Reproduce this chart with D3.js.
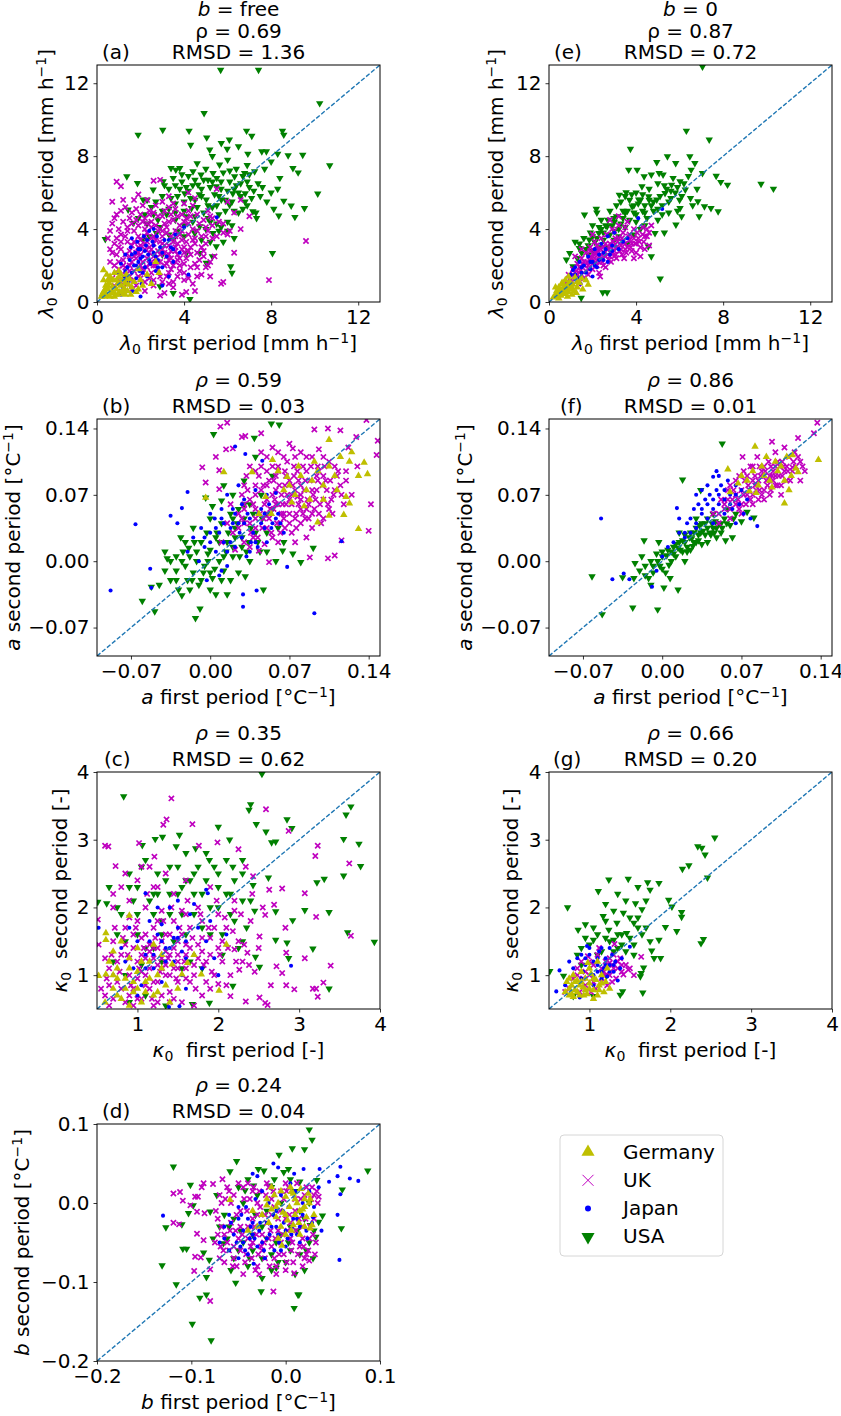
<!DOCTYPE html>
<html>
<head>
<meta charset="utf-8">
<script src="https://cdn.jsdelivr.net/npm/d3@7"></script>
<style>
  body { margin: 0; background: #fff; }
  text { font-family: "DejaVu Sans", sans-serif; fill: #000; white-space: pre; }
</style>
</head>
<body>
<svg id="fig" width="841" height="1416"></svg>
<script>
// ---- data ----
const countries = ["Germany", "UK", "Japan", "USA"];
const panelIds = ["a", "b", "c", "d", "e", "f", "g"];
const rhoValues = ["0.69", "0.59", "0.35", "0.24", "0.87", "0.86", "0.66"];
const rmsdValues = ["1.36", "0.03", "0.62", "0.04", "0.72", "0.01", "0.20"];

const lamTicks = [0, 4, 8, 12];
const aTicks = [-0.07, 0, 0.07, 0.14];
const kapTicks = [1, 2, 3, 4];
const bTicks = [-0.2, -0.1, 0.0, 0.1];

// (a) lambda0, b free
const lamFreeGermany = [[0.25,0.45],[0.35,0.6],[0.4,0.9],[0.3,1.2],[0.3,1.75],[0.45,0.35],[0.5,0.7],[0.55,1.05],[0.6,1.4],[0.65,0.5],[0.7,0.85],[0.75,1.2],[0.8,1.6],[0.85,0.4],[0.9,0.7],[0.95,1.0],[1.0,1.35],[1.05,0.55],[1.1,0.9],[1.15,1.2],[1.2,0.45],[1.25,0.75],[1.3,1.05],[1.35,1.5],[1.4,0.6],[1.45,0.95],[1.5,1.25],[1.55,0.4],[1.6,0.8],[1.7,1.1],[1.8,0.55],[1.9,1.8],[2.0,1.2],[2.1,0.9],[2.3,1.5],[2.7,2.2],[2.85,1.6],[0.2,0.3],[0.45,1.5],[0.6,0.3],[1.0,1.7],[1.9,0.7],[2.5,1.0],[0.35,0.3],[0.8,0.3],[0.3,0.55],[0.5,0.9],[0.6,1.2],[0.7,0.6],[0.9,1.2],[1.1,1.5],[1.2,0.6],[1.4,1.3],[0.4,0.75],[0.5,1.2],[0.95,0.4],[1.3,0.4]];
const lamFreeUK = [[1.2,0.5],[1.6,0.7],[2.2,0.6],[2.6,0.9],[3.1,0.5],[3.5,0.8],[3.9,0.4],[4.1,0.55],[4.5,0.6],[0.8,0.9],[2.9,0.35],[0.7,1.3],[1.0,1.8],[1.3,1.5],[1.7,1.2],[2.1,1.6],[2.4,1.3],[2.8,1.8],[3.2,1.4],[3.5,1.1],[3.8,1.7],[4.2,1.3],[4.6,1.9],[5.0,1.9],[5.2,1.4],[5.7,1.0],[5.8,1.1],[7.9,1.2],[1.9,1.9],[3.0,1.1],[4.4,1.0],[0.6,2.2],[0.9,2.6],[1.2,2.3],[1.5,2.8],[1.8,2.4],[2.2,2.9],[2.5,2.2],[2.9,2.6],[3.3,2.3],[3.6,2.8],[4.0,2.1],[4.3,2.6],[4.7,2.3],[5.2,2.2],[5.4,2.5],[6.3,2.7],[1.1,2.9],[3.8,2.4],[2.7,2.0],[4.9,2.8],[0.5,3.5],[0.8,3.2],[1.1,3.7],[1.4,3.3],[1.7,3.9],[2.0,3.4],[2.3,3.8],[2.6,3.2],[3.0,3.6],[3.3,3.1],[3.6,3.9],[3.9,3.4],[4.2,3.7],[4.5,3.2],[4.8,3.6],[5.1,3.9],[5.8,3.8],[6.0,3.7],[6.1,3.9],[9.6,3.35],[1.9,3.0],[2.8,3.9],[3.5,3.5],[4.0,3.0],[0.7,4.3],[0.9,4.8],[1.2,4.4],[1.6,4.9],[1.9,4.2],[2.2,4.6],[2.5,4.1],[2.8,4.7],[3.1,4.3],[3.4,4.8],[3.8,4.2],[4.1,4.6],[4.4,4.0],[4.9,4.5],[5.3,4.2],[6.6,4.0],[7.0,4.7],[1.4,4.1],[0.7,5.5],[1.1,6.35],[0.9,6.6],[1.7,5.6],[2.6,6.65],[2.9,6.7],[3.0,5.5],[4.5,5.7],[5.5,6.2],[6.0,5.5],[6.6,5.6],[1.3,5.2],[2.1,5.3],[3.6,5.1],[4.0,5.4],[5.1,5.0],[2.4,5.0],[1.5,2.0],[1.8,2.7],[2.1,2.2],[2.4,2.7],[2.7,2.4],[3.0,2.9],[3.3,2.6],[3.6,2.2],[2.0,3.1],[2.3,3.3],[2.6,3.6],[2.9,3.3],[3.2,3.8],[3.5,3.3],[1.7,1.7],[2.3,1.9],[3.1,2.0],[3.4,1.8],[1.3,1.9],[1.0,2.2],[1.1,1.1],[1.4,1.0],[1.8,0.9],[2.0,1.3],[2.5,1.6],[2.9,1.4],[3.3,1.0],[3.7,1.4],[4.0,1.6],[4.3,1.9],[4.8,1.5],[0.9,1.6],[1.2,2.0],[1.6,2.2],[2.0,2.0],[2.3,2.4],[2.6,2.0],[2.9,2.2],[3.2,2.5],[3.5,2.0],[3.8,2.0],[4.1,2.4],[4.5,2.1],[4.9,2.5],[5.1,2.0],[0.7,2.7],[1.0,3.0],[1.3,2.6],[1.6,3.1],[1.9,2.7],[2.2,3.2],[2.5,2.9],[2.8,2.8],[3.1,3.1],[3.4,2.8],[3.7,3.2],[4.0,2.7],[4.3,3.0],[4.6,2.7],[5.0,3.2],[5.3,3.5],[0.6,3.9],[1.0,4.0],[1.3,3.6],[1.6,4.3],[1.9,3.6],[2.2,4.0],[2.5,3.5],[2.7,4.2],[3.0,3.9],[3.3,4.4],[3.6,3.6],[3.9,3.9],[4.2,4.3],[4.6,3.9],[5.0,4.1],[5.5,3.6],[0.8,4.6],[1.1,5.0],[1.5,4.6],[1.8,5.1],[2.1,4.4],[2.4,4.8],[2.7,5.3],[3.0,4.7],[3.3,5.2],[3.7,4.7],[4.2,5.0],[4.6,4.8],[5.3,4.6],[5.8,4.3],[1.2,5.6],[1.9,5.9],[2.3,5.6],[3.3,5.8],[4.2,6.0],[6.3,4.9],[2.2,1.1],[1.5,1.4],[3.7,2.6],[4.4,3.4],[2.4,2.1],[1.2,1.2],[1.5,1.7],[1.7,2.5],[2.0,2.6],[2.1,1.8],[2.2,3.6],[2.4,3.0],[2.5,4.4],[2.6,2.5],[2.7,3.4],[2.8,2.2],[2.9,4.0],[3.0,3.2],[3.1,2.7],[3.2,4.1],[3.2,2.1],[3.4,3.6],[3.4,2.4],[3.5,4.5],[3.6,3.0],[3.7,2.3],[3.8,3.7],[3.9,2.9],[4.0,4.4],[4.1,3.3],[4.2,2.8],[4.3,4.7],[4.5,3.5],[4.7,4.3],[4.8,3.0],[5.0,3.6],[5.2,4.7],[5.6,4.4],[1.1,3.3],[1.4,3.9],[1.5,2.5],[1.7,3.3],[1.8,4.5],[2.0,4.8],[2.3,4.3],[2.6,4.9],[3.1,5.0],[3.5,5.4],[3.9,4.8],[4.4,5.3],[0.9,3.5],[0.6,2.9],[0.8,2.0],[1.3,1.3],[1.9,1.4],[2.6,1.2],[3.3,1.6],[4.0,1.2],[4.6,1.4]];
const lamFreeJapan = [[0.9,1.2],[1.0,1.6],[1.1,2.1],[1.2,0.8],[1.25,1.4],[1.3,2.6],[1.4,1.9],[1.45,1.1],[1.5,2.3],[1.55,3.0],[1.6,1.6],[1.65,0.6],[1.7,2.0],[1.75,2.7],[1.8,1.3],[1.85,3.3],[1.9,2.2],[1.95,1.7],[2.0,2.9],[2.05,1.0],[2.1,2.5],[2.15,3.6],[2.2,1.9],[2.25,3.1],[2.3,1.4],[2.35,2.6],[2.4,3.9],[2.45,2.1],[2.5,1.1],[2.55,3.3],[2.6,2.7],[2.7,1.7],[2.75,3.6],[2.8,2.3],[2.9,3.0],[3.0,1.9],[3.1,3.4],[3.2,2.5],[3.3,1.4],[3.4,3.0],[3.5,2.2],[3.6,3.7],[3.8,2.7],[4.0,4.1],[4.2,1.5],[1.1,0.4],[5.5,4.65],[2.0,0.3],[1.6,3.5],[2.6,4.0],[3.0,0.9],[1.3,1.7],[1.6,2.6],[1.9,2.9],[2.1,1.6],[2.2,2.8],[2.4,2.3],[2.6,3.1],[2.8,1.9],[3.0,2.7],[3.3,3.4],[1.8,2.0],[2.0,2.4],[2.3,3.4],[2.7,2.5],[3.5,2.9]];
const lamFreeUSA = [[5.68,12.73],[7.42,12.73],[10.23,10.9],[4.92,10.36],[3.02,9.44],[4.23,9.39],[1.89,9.17],[5.04,9.02],[6.87,9.39],[7.11,9.11],[8.52,9.39],[8.58,9.17],[4.3,8.62],[5.71,8.71],[6.08,8.9],[5.98,8.4],[5.18,8.35],[6.5,8.53],[6.93,8.13],[7.57,8.26],[7.78,8.26],[8.3,8.13],[8.78,8.04],[9.45,8.07],[10.69,7.49],[9.0,7.34],[9.24,7.1],[10.14,5.94],[9.53,5.15],[8.92,5.28],[9.09,4.66],[8.58,5.55],[8.35,4.73],[8.12,5.1],[8.06,2.68],[7.16,4.97],[7.33,4.6],[6.14,1.95],[6.2,1.59],[4.27,0.16],[1.37,6.89],[1.86,6.52],[0.38,3.45],[3.4,7.34],[3.62,7.25],[3.8,7.34],[4.41,7.16],[4.78,6.98],[5.33,7.07],[5.63,7.53],[6.32,6.89],[6.78,7.07],[7.24,7.16],[6.81,5.96],[6.24,5.96],[4.64,6.43],[4.03,5.96],[3.04,6.61],[2.58,6.16],[2.12,5.61],[1.43,5.06],[5.48,6.34],[5.71,5.61],[6.09,5.33],[5.02,5.61],[4.34,5.15],[4.11,4.69],[4.72,4.15],[5.33,3.78],[5.48,3.05],[4.72,2.68],[5.02,2.14],[4.11,2.68],[3.5,3.42],[2.73,3.78],[2.12,3.42],[1.66,4.33],[3.5,0.49],[2.89,0.86],[4.49,3.78],[2.5,5.2],[3.0,5.8],[3.3,6.2],[3.6,5.4],[3.9,6.6],[4.2,6.1],[4.5,5.6],[4.8,6.2],[5.1,6.7],[5.4,5.9],[5.7,6.6],[6.0,6.1],[6.4,6.4],[6.6,5.8],[7.0,6.3],[3.2,4.8],[3.6,4.5],[4.0,5.0],[4.4,4.4],[4.9,4.9],[5.2,4.4],[5.6,4.8],[6.0,4.4],[6.3,5.0],[6.7,6.9],[2.2,4.8],[2.8,4.5],[7.5,5.8],[5.3,2.5],[5.8,3.3],[6.5,4.9],[3.0,2.6],[6.9,5.3],[7.3,4.9],[2.3,5.6],[2.7,5.5],[3.1,6.4],[3.3,5.1],[3.5,6.8],[3.7,5.8],[3.9,7.0],[4.1,6.3],[4.3,5.7],[4.5,6.7],[4.6,5.2],[4.8,5.8],[5.0,7.3],[5.2,6.3],[5.3,5.2],[5.5,6.8],[5.6,5.8],[5.8,7.1],[5.9,5.0],[6.1,6.6],[6.2,5.5],[6.4,7.3],[6.5,6.0],[6.7,5.1],[6.9,6.6],[7.1,5.7],[7.4,6.5],[7.7,7.3],[8.0,6.0],[8.4,6.8],[4.0,4.2],[4.5,4.7],[5.0,4.0],[5.5,4.3],[6.0,3.9],[6.3,3.5],[5.7,4.1],[3.7,3.9],[3.3,3.7],[4.8,3.4],[5.2,3.3],[2.9,4.1],[2.4,3.6],[3.8,6.2],[4.6,7.6],[5.3,8.0],[6.0,7.8],[6.9,7.5],[7.6,6.3],[8.0,7.7],[2.6,4.8],[3.0,5.0],[3.4,5.7],[3.6,6.4],[4.0,5.5],[4.2,6.9],[4.4,6.4],[4.7,5.9],[4.9,6.7],[5.1,5.3],[5.3,6.6],[5.5,5.3],[5.7,6.2],[5.9,5.6],[6.1,7.2],[6.3,6.2],[6.6,6.5],[6.8,5.5],[7.0,7.0],[7.2,6.1],[4.0,3.6],[4.5,3.9],[5.1,4.6],[5.6,3.9],[6.2,4.2],[3.6,4.9],[2.3,4.3],[1.9,4.6],[7.8,5.5],[8.3,6.2]];

// (b) a, b free
const aFreeGermany = [[-0.004,0.067],[0.055,0.107],[0.105,0.128],[0.123,0.105],[0.136,0.104],[0.131,0.09],[0.139,0.092],[0.12,0.068],[0.123,0.061],[0.118,0.049],[0.131,0.034],[0.105,0.048],[0.095,0.041],[0.012,0.094],[0.037,0.094],[0.068,0.089],[0.049,0.068],[0.054,0.05],[0.043,0.05],[0.07,0.08],[0.075,0.07],[0.08,0.09],[0.085,0.075],[0.09,0.085],[0.095,0.095],[0.1,0.08],[0.105,0.1],[0.11,0.09],[0.115,0.11],[0.078,0.1],[0.065,0.075],[0.088,0.065],[0.1,0.065],[0.06,0.095],[0.092,0.105],[0.112,0.075],[0.125,0.115],[0.083,0.058],[0.072,0.062]];
const aFreeUK = [[0.009,0.142],[0.015,0.146],[-0.007,0.099],[-0.004,0.083],[0.008,0.076],[0.031,0.132],[0.045,0.135],[0.092,0.139],[0.104,0.14],[0.115,0.138],[0.129,0.131],[0.138,0.149],[0.148,0.127],[0.147,0.112],[0.142,0.06],[0.14,0.032],[0.116,0.022],[0.11,0.006],[0.104,0.003],[0.088,0.004],[0.052,-0.001],[0.043,0.011],[0.008,0.096],[0.005,0.11],[0.014,0.118],[0.02,0.119],[0.028,0.131],[0.07,0.124],[0.073,0.119],[0.096,0.118],[0.122,0.12],[0.02,0.03],[0.025,0.05],[0.028,0.07],[0.03,0.02],[0.032,0.09],[0.035,0.04],[0.038,0.06],[0.04,0.08],[0.042,0.025],[0.045,0.1],[0.047,0.045],[0.05,0.065],[0.052,0.085],[0.054,0.03],[0.056,0.055],[0.058,0.075],[0.06,0.095],[0.062,0.04],[0.064,0.06],[0.066,0.08],[0.068,0.105],[0.07,0.05],[0.072,0.07],[0.074,0.09],[0.076,0.035],[0.078,0.06],[0.08,0.08],[0.082,0.1],[0.084,0.045],[0.086,0.065],[0.088,0.085],[0.09,0.11],[0.092,0.055],[0.094,0.075],[0.096,0.095],[0.098,0.04],[0.1,0.065],[0.102,0.085],[0.105,0.105],[0.108,0.05],[0.11,0.075],[0.113,0.095],[0.118,0.06],[0.12,0.085],[0.125,0.07],[0.13,0.1],[0.022,0.012],[0.035,0.015],[0.048,0.018],[0.06,0.02],[0.075,0.02],[0.085,0.025],[0.03,0.055],[0.04,0.045],[0.055,0.07],[0.065,0.045],[0.075,0.075],[0.085,0.055],[0.095,0.085],[0.06,0.06],[0.07,0.085],[0.08,0.065],[0.05,0.05],[0.045,0.075],[0.058,0.09],[0.015,0.04],[0.01,0.02],[0.018,0.06],[0.025,0.035],[0.03,0.06],[0.033,0.075],[0.036,0.03],[0.04,0.055],[0.043,0.09],[0.046,0.035],[0.048,0.06],[0.05,0.08],[0.052,0.045],[0.055,0.1],[0.057,0.065],[0.059,0.04],[0.061,0.08],[0.063,0.05],[0.066,0.095],[0.068,0.07],[0.07,0.04],[0.072,0.06],[0.074,0.1],[0.076,0.05],[0.078,0.085],[0.08,0.055],[0.083,0.075],[0.085,0.095],[0.087,0.045],[0.09,0.075],[0.093,0.065],[0.095,0.1],[0.097,0.06],[0.1,0.09],[0.103,0.075],[0.107,0.065],[0.11,0.1],[0.115,0.08],[0.12,0.095],[0.035,0.1],[0.045,0.115],[0.055,0.12],[0.065,0.11],[0.08,0.115],[0.062,0.03],[0.072,0.03],[0.09,0.035],[0.1,0.045],[0.04,0.035],[0.028,0.045],[0.05,0.035],[0.067,0.06],[0.077,0.068],[0.03,0.04],[0.035,0.065],[0.04,0.07],[0.044,0.05],[0.047,0.08],[0.05,0.095],[0.053,0.055],[0.056,0.085],[0.058,0.06],[0.06,0.1],[0.063,0.07],[0.065,0.05],[0.067,0.09],[0.07,0.065],[0.073,0.08],[0.075,0.045],[0.077,0.095],[0.08,0.07],[0.082,0.05],[0.084,0.085],[0.087,0.06],[0.089,0.1],[0.091,0.07],[0.094,0.09],[0.096,0.05],[0.099,0.08],[0.101,0.1],[0.104,0.06],[0.106,0.085],[0.109,0.07],[0.112,0.09],[0.116,0.07],[0.04,0.095],[0.05,0.11],[0.06,0.115],[0.075,0.11],[0.085,0.11],[0.1,0.11],[0.038,0.025],[0.055,0.025],[0.066,0.035],[0.08,0.04],[0.09,0.05],[0.105,0.055],[0.03,0.08]];
const aFreeJapan = [[-0.088,-0.031],[-0.066,0.039],[-0.053,-0.008],[-0.052,-0.028],[-0.035,0.048],[-0.029,0.04],[-0.025,0.056],[-0.02,0.073],[0.022,0.121],[0.031,0.113],[0.029,-0.035],[0.029,-0.048],[0.041,-0.031],[0.092,-0.055],[0.068,-0.006],[0.116,0.021],[0.046,0.106],[-0.01,0.0],[-0.005,0.015],[0.0,0.03],[0.005,0.01],[0.01,0.045],[0.012,0.02],[0.015,-0.005],[0.018,0.035],[0.02,0.055],[0.022,0.015],[0.025,0.04],[0.028,0.025],[0.03,0.065],[0.032,0.005],[0.035,0.045],[0.038,0.03],[0.04,0.075],[0.042,0.015],[0.045,0.055],[0.048,0.035],[0.05,0.02],[0.052,0.06],[0.055,0.04],[0.06,0.05],[0.065,0.03],[-0.015,0.025],[-0.02,0.01],[0.008,-0.015],[0.0,0.05],[0.015,0.07],[-0.008,0.035],[0.025,0.08],[0.035,0.01],[0.058,0.072],[-0.003,-0.02],[0.01,-0.01],[0.0,0.02],[0.008,0.03],[0.015,0.01],[0.02,0.04],[0.026,0.03],[0.033,0.05],[0.04,0.02],[0.045,0.04],[0.05,0.07],[0.058,0.045],[0.004,0.045],[0.028,0.06],[0.005,0.035],[0.012,0.04],[0.018,0.02],[0.022,0.05],[0.03,0.04],[0.036,0.02],[0.042,0.05],[0.048,0.05],[0.054,0.035],[0.062,0.04],[-0.005,0.025],[0.01,0.055]];
const aFreeUSA = [[0.054,0.145],[0.061,0.144],[0.003,0.134],[0.039,0.13],[-0.004,0.067],[-0.06,-0.042],[-0.049,-0.053],[-0.052,-0.027],[-0.013,-0.06],[-0.009,-0.05],[-0.025,-0.036],[-0.038,0.003],[-0.026,0.025],[-0.019,0.014],[0.005,-0.035],[0.015,-0.035],[0.031,-0.016],[0.047,-0.03],[0.08,-0.001],[0.091,0.014],[0.073,0.008],[0.064,0.011],[0.002,0.058],[0.01,0.064],[-0.03,-0.01],[-0.025,0.0],[-0.02,-0.02],[-0.018,0.005],[-0.015,-0.012],[-0.012,0.01],[-0.01,-0.025],[-0.008,0.02],[-0.005,-0.005],[-0.003,0.03],[0.0,0.012],[0.002,-0.018],[0.005,0.025],[0.008,0.0],[0.01,0.04],[0.012,-0.01],[0.015,0.02],[0.018,0.05],[0.02,0.005],[0.022,0.035],[0.025,-0.012],[0.028,0.015],[0.03,0.045],[0.035,0.0],[0.04,0.03],[0.045,0.07],[0.05,0.01],[0.055,0.09],[0.06,0.035],[0.065,0.02],[-0.035,-0.02],[-0.04,0.01],[-0.028,-0.03],[-0.022,0.02],[0.0,-0.03],[0.02,0.07],[0.04,0.11],[0.03,0.085],[0.012,0.08],[0.035,0.06],[0.05,0.05],[-0.015,0.035],[0.058,0.0],[-0.022,-0.005],[-0.016,-0.02],[-0.012,0.0],[-0.006,-0.012],[-0.002,0.008],[0.004,-0.008],[0.008,0.02],[0.012,0.005],[0.016,0.03],[0.02,0.015],[0.024,0.04],[0.028,0.025],[0.032,0.01],[0.036,0.035],[0.042,0.02],[0.046,0.045],[0.05,0.03],[0.055,0.055],[-0.03,0.005],[-0.04,-0.01],[0.0,-0.012],[0.018,-0.02],[0.03,0.06],[0.02,0.045],[-0.03,-0.02],[-0.024,0.01],[-0.018,-0.03],[-0.014,0.02],[-0.008,-0.02],[-0.002,0.0],[0.006,0.03],[0.01,-0.02],[0.014,0.01],[0.022,0.025],[0.026,0.005],[0.034,0.02],[0.038,0.05],[0.044,0.01],[0.025,0.055],[-0.045,-0.025],[-0.035,0.0],[0.0,0.045]];

// (c) kappa0, b free
const kapFreeGermany = [[0.9,1.88],[0.61,1.62],[0.61,1.52],[2.01,0.77],[2.1,1.45],[1.79,1.01],[1.62,1.18],[1.55,1.01],[1.43,1.16],[0.52,0.99],[0.61,1.01],[0.7,0.8],[0.75,1.1],[0.8,0.65],[0.85,0.95],[0.9,1.25],[0.95,0.75],[1.0,1.05],[1.05,0.6],[1.1,0.9],[1.15,1.2],[1.2,0.7],[1.25,1.0],[1.3,1.3],[1.35,0.85],[1.4,0.6],[0.7,1.35],[0.8,1.5],[0.6,0.6],[0.9,0.55],[1.2,1.45],[1.5,0.8],[1.0,1.4],[0.75,0.95],[1.1,0.75],[0.65,1.2],[1.7,1.3],[0.75,0.7],[0.85,0.8],[0.9,1.1],[1.0,0.8],[1.05,1.2],[1.15,0.95],[1.25,0.75],[1.3,1.1],[0.7,1.0],[0.95,0.9]];
const kapFreeUK = [[1.42,3.61],[1.36,3.30],[1.32,3.22],[1.68,3.23],[1.76,2.91],[1.99,2.96],[2.25,2.86],[2.59,3.45],[2.87,3.13],[3.23,2.91],[3.20,2.76],[3.62,2.65],[3.07,2.21],[3.21,1.86],[2.83,1.70],[2.69,2.04],[2.63,2.26],[2.79,2.28],[3.07,1.25],[3.39,1.14],[3.64,1.58],[3.21,0.80],[3.17,0.80],[3.23,0.68],[3.30,0.89],[2.94,0.79],[2.84,0.85],[2.65,0.85],[2.58,0.59],[2.61,0.56],[2.51,0.67],[2.34,0.61],[2.15,0.69],[2.0,0.87],[0.60,2.91],[0.64,2.90],[1.02,2.95],[1.21,2.75],[0.73,2.61],[0.52,1.45],[0.51,1.82],[2.34,2.60],[2.43,2.46],[2.58,1.89],[2.51,1.57],[2.36,1.33],[2.20,1.38],[2.84,1.33],[2.72,1.13],[2.79,1.03],[2.26,1.08],[0.6,0.7],[0.65,1.1],[0.7,1.5],[0.7,2.0],[0.75,0.9],[0.8,1.3],[0.8,2.3],[0.85,0.6],[0.85,1.7],[0.9,1.0],[0.9,2.1],[0.95,1.4],[0.95,0.8],[1.0,1.8],[1.0,1.2],[1.0,2.4],[1.05,0.65],[1.05,1.55],[1.1,1.0],[1.1,2.0],[1.15,1.35],[1.15,0.8],[1.2,1.7],[1.2,2.3],[1.25,1.15],[1.25,0.6],[1.3,1.5],[1.3,1.95],[1.35,1.0],[1.35,2.5],[1.4,1.3],[1.4,0.75],[1.45,1.8],[1.45,2.2],[1.5,1.1],[1.5,1.5],[1.55,0.6],[1.55,1.95],[1.6,1.3],[1.6,2.4],[1.65,0.9],[1.65,1.7],[1.7,1.15],[1.75,2.0],[1.75,1.45],[1.8,0.7],[1.8,1.8],[1.85,1.2],[1.9,1.55],[1.9,2.3],[1.95,1.0],[2.0,1.4],[2.0,1.9],[2.05,1.2],[2.1,1.7],[2.15,1.0],[2.2,2.1],[2.25,1.5],[2.3,1.2],[2.4,1.8],[2.45,1.05],[1.2,0.55],[0.95,0.55],[0.65,0.55],[1.7,0.55],[1.1,1.25],[1.3,1.25],[1.5,1.3],[1.2,1.4],[1.4,1.6],[1.6,1.1],[1.8,1.35],[0.9,1.25],[1.05,1.05],[1.35,1.15],[1.25,0.9],[1.6,1.9],[0.75,1.2],[0.8,0.8],[0.85,1.45],[0.9,0.7],[0.95,1.6],[1.0,0.95],[1.05,1.3],[1.1,0.85],[1.1,1.6],[1.15,1.1],[1.2,0.9],[1.2,1.25],[1.25,1.4],[1.3,0.7],[1.3,1.1],[1.35,1.6],[1.4,1.0],[1.45,1.4],[1.5,0.9],[1.5,1.2],[1.55,1.6],[1.6,0.95],[1.65,1.4],[1.7,1.0],[1.75,1.25],[1.8,1.55],[1.85,0.9],[1.9,1.3],[1.95,1.7],[2.05,1.5],[0.7,0.65],[1.0,0.65],[1.4,0.6],[0.65,0.85],[1.15,1.45],[1.35,1.35],[1.45,1.1],[1.6,1.45],[1.25,1.8],[0.9,1.85],[0.62,0.95],[0.68,1.3],[0.72,1.7],[0.78,1.05],[0.82,1.55],[0.88,1.3],[0.92,0.85],[0.98,1.7],[1.02,1.1],[1.08,1.4],[1.12,2.2],[1.18,0.65],[1.22,1.55],[1.28,1.05],[1.32,1.8],[1.38,1.25],[1.42,2.0],[1.48,0.95],[1.52,1.7],[1.58,1.2],[1.62,2.1],[1.68,1.55],[1.72,0.8],[1.78,1.9],[1.82,1.15],[1.88,1.7],[1.92,1.05],[1.98,2.1],[2.02,1.3],[2.08,1.85],[2.12,1.4],[2.18,1.65],[2.22,1.2],[2.28,1.9],[2.32,1.45],[2.38,1.15],[2.42,2.2],[2.5,1.4],[2.55,2.0],[0.7,2.2],[0.85,2.5],[1.05,2.6],[1.25,2.3],[1.15,2.6],[0.6,1.25],[0.55,0.8],[1.45,0.65],[1.9,0.8],[2.1,0.85],[2.2,1.95]];
const kapFreeJapan = [[2.9,1.14],[1.1,2.21],[0.52,1.7],[1.39,0.53],[1.52,0.54],[1.85,2.26],[1.87,2.21],[0.7,1.0],[0.8,1.4],[0.9,1.7],[0.95,1.1],[1.0,1.5],[1.05,0.85],[1.1,1.3],[1.15,1.8],[1.2,1.1],[1.25,1.6],[1.3,0.9],[1.35,1.4],[1.4,2.0],[1.45,1.2],[1.5,1.7],[1.55,1.0],[1.6,1.5],[1.65,1.9],[1.7,1.3],[1.75,1.7],[1.8,1.1],[1.85,1.5],[1.9,1.8],[1.95,1.25],[2.1,1.6],[1.25,2.0],[1.5,2.1],[1.0,0.7],[1.6,0.8],[2.0,1.0],[1.3,1.75],[1.45,1.55],[0.85,1.2],[1.15,1.5],[1.7,2.05],[1.2,1.3],[1.3,1.5],[1.4,1.4],[1.5,1.55],[1.6,1.25],[1.35,1.2],[1.1,1.1],[1.55,1.35]];
const kapFreeUSA = [[0.83,3.64],[2.54,3.97],[2.40,3.52],[2.38,3.44],[2.47,3.23],[2.85,3.30],[2.91,3.17],[2.59,3.12],[3.64,3.49],[3.58,3.37],[3.74,2.94],[3.76,2.61],[3.55,3.01],[3.55,2.47],[3.31,2.42],[3.22,2.37],[3.07,1.96],[3.37,1.93],[3.60,1.63],[3.93,1.49],[3.17,1.39],[3.37,0.80],[2.87,1.25],[2.92,1.81],[2.71,1.94],[2.71,1.52],[2.85,1.48],[2.46,1.27],[2.51,1.12],[2.14,3.0],[2.0,3.19],[1.48,2.9],[1.22,3.01],[1.31,3.04],[1.06,2.92],[1.72,2.87],[1.52,3.07],[0.51,2.08],[0.62,2.06],[1.89,2.70],[2.18,2.60],[2.30,2.50],[2.43,2.33],[2.62,2.44],[2.71,2.97],[2.66,2.96],[1.89,0.59],[1.68,0.57],[2.18,0.84],[0.7,1.2],[0.8,1.9],[0.9,2.3],[0.9,0.6],[1.0,1.6],[1.05,2.6],[1.1,0.7],[1.15,2.1],[1.2,1.4],[1.25,2.5],[1.3,1.8],[1.35,0.55],[1.4,2.2],[1.45,1.5],[1.5,2.6],[1.55,1.9],[1.6,2.4],[1.65,1.2],[1.7,2.2],[1.75,2.6],[1.8,1.7],[1.85,2.4],[1.9,2.0],[2.0,2.3],[2.05,1.6],[2.1,2.7],[2.15,1.9],[2.2,2.4],[2.25,1.4],[2.3,2.1],[2.35,1.7],[1.2,1.9],[0.95,2.1],[1.6,2.8],[1.95,2.6],[2.45,1.95],[0.65,2.3],[0.75,1.6],[0.85,1.5],[1.0,1.9],[1.1,1.4],[1.2,2.2],[1.3,1.6],[1.4,1.9],[1.5,2.2],[1.6,1.6],[1.7,1.9],[1.8,2.2],[1.9,1.6],[2.0,2.0],[2.1,2.2],[2.2,1.8],[1.35,2.4],[1.65,2.4],[0.75,2.0],[0.9,2.5],[1.0,2.3],[1.1,2.7],[1.25,2.2],[1.4,2.6],[1.55,2.3],[1.7,2.5],[1.85,2.8],[2.0,2.5],[2.15,2.2],[2.3,2.7],[2.4,2.1],[0.85,1.0],[1.05,1.15],[1.3,1.2],[1.55,1.1],[1.8,1.1],[2.05,1.3],[2.3,1.5]];

// (d) b, b free
const bFreeGermany = [[-0.059,0.004],[-0.004,-0.054],[0.028,-0.028],[0.026,0.005],[0.006,0.014],[-0.020,-0.003],[-0.025,-0.015],[-0.02,0.005],[-0.018,-0.025],[-0.015,-0.008],[-0.012,0.01],[-0.01,-0.018],[-0.008,0.0],[-0.005,-0.03],[-0.003,-0.012],[0.0,0.008],[0.002,-0.022],[0.004,-0.005],[0.006,-0.035],[0.008,0.012],[0.01,-0.015],[0.012,0.0],[0.014,-0.025],[0.016,0.018],[0.018,-0.008],[0.02,0.005],[0.022,-0.018],[0.024,0.012],[0.026,-0.032],[-0.03,-0.03],[-0.035,-0.01],[-0.04,-0.035],[-0.015,0.02],[0.005,0.02],[0.0,-0.04],[0.015,-0.04],[-0.008,-0.045],[0.02,-0.03],[0.03,-0.015],[-0.01,-0.005],[0.0,-0.015],[0.01,0.005],[0.015,-0.01],[0.02,-0.005],[0.025,0.0],[-0.005,0.015],[0.008,-0.028]];
const bFreeUK = [[-0.119,0.012],[-0.112,0.014],[-0.109,0.003],[-0.101,-0.003],[-0.096,0.008],[-0.093,0.008],[-0.087,0.025],[-0.077,0.024],[-0.089,0.020],[-0.067,0.030],[-0.094,-0.011],[-0.086,-0.013],[-0.119,-0.025],[-0.113,-0.027],[-0.094,-0.039],[-0.087,-0.047],[-0.096,-0.068],[-0.090,-0.069],[-0.097,-0.086],[-0.080,-0.084],[-0.080,-0.124],[-0.013,-0.112],[0.009,-0.089],[0.025,-0.073],[0.035,0.008],[-0.075,-0.05],[-0.072,-0.02],[-0.07,-0.07],[-0.068,0.0],[-0.065,-0.04],[-0.062,0.02],[-0.06,-0.06],[-0.058,-0.025],[-0.055,0.01],[-0.052,-0.08],[-0.05,-0.045],[-0.048,-0.01],[-0.045,0.02],[-0.042,-0.065],[-0.04,-0.03],[-0.038,0.005],[-0.035,-0.05],[-0.032,-0.085],[-0.03,-0.015],[-0.028,0.015],[-0.025,-0.04],[-0.022,-0.07],[-0.02,-0.025],[-0.018,0.02],[-0.015,-0.055],[-0.012,-0.005],[-0.01,-0.08],[-0.008,-0.035],[-0.005,0.015],[-0.002,-0.065],[0.0,-0.02],[0.003,0.02],[0.005,-0.045],[0.008,-0.075],[0.01,-0.01],[0.012,0.025],[0.015,-0.055],[0.018,-0.03],[0.02,0.01],[0.022,-0.065],[0.025,-0.045],[0.028,0.02],[0.03,-0.02],[0.032,-0.05],[0.034,0.0],[-0.065,-0.075],[-0.045,-0.09],[-0.028,-0.09],[-0.01,-0.09],[0.018,-0.08],[-0.055,-0.055],[-0.035,-0.02],[-0.015,-0.015],[0.005,-0.025],[-0.04,0.025],[-0.02,0.025],[0.0,0.025],[-0.07,0.01],[-0.048,-0.03],[-0.025,-0.06],[-0.068,-0.03],[-0.062,-0.05],[-0.058,0.0],[-0.053,-0.035],[-0.048,-0.06],[-0.044,0.005],[-0.04,-0.045],[-0.036,-0.07],[-0.033,-0.03],[-0.03,0.0],[-0.026,-0.055],[-0.022,-0.015],[-0.018,-0.045],[-0.015,0.005],[-0.012,-0.07],[-0.008,-0.02],[-0.005,-0.05],[-0.002,0.005],[0.002,-0.035],[0.006,-0.06],[0.01,0.005],[0.014,-0.02],[0.018,-0.045],[0.022,0.02],[0.026,-0.03],[0.03,0.01],[-0.055,-0.07],[-0.03,-0.08],[0.0,-0.085],[0.02,-0.07],[-0.06,0.015],[-0.035,0.015],[-0.072,-0.04],[-0.066,-0.06],[-0.064,0.005],[-0.059,-0.035],[-0.056,-0.08],[-0.052,-0.015],[-0.05,0.025],[-0.046,-0.04],[-0.043,-0.075],[-0.041,-0.01],[-0.037,-0.055],[-0.034,0.02],[-0.031,-0.04],[-0.029,-0.065],[-0.027,-0.005],[-0.023,-0.05],[-0.021,0.01],[-0.017,-0.08],[-0.016,-0.035],[-0.013,0.015],[-0.011,-0.045],[-0.007,-0.065],[-0.006,-0.01],[-0.003,-0.04],[0.001,-0.075],[0.001,0.015],[0.004,-0.015],[0.007,-0.05],[0.011,-0.035],[0.013,-0.065],[0.016,0.005],[0.019,-0.055],[0.021,-0.02],[0.024,-0.06],[0.027,0.005],[0.029,-0.04],[0.031,-0.065],[0.033,0.015],[-0.069,-0.055],[-0.074,-0.01]];
const bFreeJapan = [[-0.130,-0.016],[0.058,0.046],[0.068,0.031],[0.077,0.028],[0.046,0.027],[0.055,0.034],[0.036,0.043],[0.058,0.011],[0.055,-0.015],[0.057,-0.072],[0.038,-0.035],[-0.013,0.050],[-0.035,0.037],[-0.030,0.034],[0.019,0.043],[0.009,0.037],[-0.008,0.045],[0.029,-0.018],[-0.034,-0.077],[-0.07,-0.05],[-0.065,-0.03],[-0.06,-0.06],[-0.055,-0.04],[-0.05,-0.02],[-0.048,-0.055],[-0.045,-0.035],[-0.042,-0.005],[-0.04,-0.065],[-0.038,-0.045],[-0.035,-0.025],[-0.032,0.005],[-0.03,-0.055],[-0.028,-0.035],[-0.025,-0.015],[-0.022,-0.07],[-0.02,-0.045],[-0.018,0.0],[-0.015,-0.03],[-0.012,-0.06],[-0.01,-0.01],[-0.008,-0.04],[-0.005,0.01],[-0.002,-0.025],[0.0,-0.055],[0.003,-0.005],[0.006,-0.04],[0.01,0.015],[0.012,-0.02],[0.015,-0.05],[0.018,0.0],[0.022,-0.035],[0.025,0.015],[0.03,-0.005],[-0.06,-0.015],[-0.05,-0.07],[0.005,0.025],[-0.025,0.015],[0.035,0.02],[-0.045,-0.05],[-0.035,-0.04],[-0.025,-0.05],[-0.02,-0.025],[-0.01,-0.03],[0.0,-0.035],[0.008,-0.02],[0.015,-0.03],[-0.04,-0.02],[-0.005,-0.06],[-0.065,-0.045],[-0.058,-0.025],[-0.052,-0.05],[-0.047,-0.015],[-0.043,-0.06],[-0.037,-0.03],[-0.033,-0.045],[-0.027,-0.025],[-0.023,-0.06],[-0.017,-0.04],[-0.013,-0.015],[-0.007,-0.05],[-0.003,-0.01],[0.002,-0.045],[0.007,-0.03],[0.012,-0.04],[0.018,-0.015],[0.023,-0.045],[0.028,-0.025],[-0.05,-0.005]];
const bFreeUSA = [[0.025,0.093],[0.028,0.080],[0.007,0.069],[0.020,0.068],[-0.007,0.061],[-0.052,0.053],[-0.119,0.046],[-0.059,0.040],[-0.029,0.043],[-0.023,0.041],[-0.002,0.039],[0.003,0.043],[0.087,0.041],[-0.101,0.023],[-0.103,-0.013],[-0.110,-0.027],[-0.127,-0.031],[0.060,0.017],[0.059,-0.032],[0.039,-0.016],[0.035,-0.024],[0.032,-0.043],[-0.131,-0.079],[-0.116,-0.103],[-0.109,-0.058],[-0.105,-0.058],[-0.091,-0.12],[-0.084,-0.116],[-0.099,-0.153],[-0.079,-0.174],[-0.084,-0.094],[-0.081,-0.072],[-0.053,-0.101],[-0.026,-0.112],[-0.025,-0.095],[0.009,-0.133],[0.013,-0.116],[0.014,-0.116],[-0.010,-0.082],[-0.077,-0.045],[-0.087,-0.063],[-0.080,-0.011],[-0.098,-0.003],[-0.073,0.010],[-0.043,0.016],[-0.034,0.022],[-0.017,0.022],[0.015,0.027],[0.033,0.029],[0.026,-0.028],[0.029,-0.070],[-0.055,-0.070],[-0.066,-0.051],[-0.06,-0.03],[-0.05,-0.06],[-0.045,0.0],[-0.04,-0.08],[-0.035,-0.04],[-0.03,0.01],[-0.025,-0.07],[-0.02,-0.01],[-0.015,-0.085],[-0.01,-0.05],[-0.005,0.0],[0.0,-0.075],[0.005,-0.03],[0.01,0.015],[0.015,-0.065],[0.02,-0.02],[0.025,-0.05],[-0.065,-0.015],[-0.015,0.02],[0.01,-0.09],[-0.055,-0.02],[-0.045,-0.05],[-0.035,-0.06],[-0.025,-0.03],[-0.015,-0.065],[-0.005,-0.04],[0.005,-0.06],[0.015,-0.01],[0.02,-0.085],[-0.05,0.02],[-0.04,0.03],[0.025,0.0],[-0.07,-0.03],[-0.062,-0.045],[-0.058,-0.085],[-0.048,-0.035],[-0.038,-0.07],[-0.032,-0.015],[-0.02,-0.045],[-0.008,-0.075],[0.003,-0.05],[0.012,-0.035],[0.022,-0.06],[0.03,-0.035],[-0.012,0.03],[0.005,0.03]];

// (e) lambda0, b = 0
const lamZeroGermany = [[0.2,0.25],[0.3,0.4],[0.35,0.6],[0.4,0.3],[0.45,0.8],[0.5,0.5],[0.55,0.35],[0.6,0.7],[0.65,1.0],[0.7,0.45],[0.75,0.6],[0.8,0.85],[0.85,0.3],[0.9,0.55],[0.95,1.1],[1.0,0.75],[1.05,0.4],[1.1,0.95],[1.15,0.6],[1.2,1.35],[1.3,0.8],[1.4,1.05],[1.5,1.3],[1.55,0.7],[1.7,1.2],[0.45,0.2],[0.6,1.05],[0.9,1.4],[1.25,0.5],[1.8,0.95],[0.3,0.8],[0.75,1.2],[0.35,0.35],[0.5,0.7],[0.65,0.5],[0.8,0.6],[0.9,0.85],[1.0,1.0],[1.1,0.7],[0.55,0.55],[0.7,0.8],[1.3,1.1]];
const lamZeroUK = [[0.8,1.1],[0.9,1.5],[1.0,0.9],[1.1,1.8],[1.2,1.3],[1.3,2.1],[1.35,1.0],[1.4,1.6],[1.5,2.4],[1.6,1.3],[1.65,2.0],[1.7,2.7],[1.8,1.5],[1.85,2.3],[1.9,3.0],[2.0,1.8],[2.05,2.6],[2.1,3.3],[2.2,2.0],[2.25,2.9],[2.3,1.6],[2.4,3.5],[2.45,2.4],[2.5,3.0],[2.6,1.9],[2.65,3.7],[2.7,2.6],[2.8,3.2],[2.85,2.2],[2.9,4.0],[3.0,2.8],[3.05,3.5],[3.1,2.4],[3.2,4.2],[3.3,3.1],[3.35,2.6],[3.4,3.8],[3.5,2.9],[3.6,4.4],[3.7,3.4],[3.8,2.8],[3.9,4.0],[4.0,3.2],[4.2,2.5],[4.3,3.7],[4.5,4.0],[4.7,4.2],[4.4,2.9],[3.2,4.7],[2.8,4.5],[1.2,2.5],[1.5,2.9],[2.0,3.7],[3.9,2.4],[2.35,1.4],[4.6,3.1],[1.0,1.2],[1.1,1.5],[1.25,1.7],[1.4,1.9],[1.5,1.5],[1.6,2.2],[1.7,1.7],[1.8,2.0],[1.9,2.5],[2.0,2.1],[2.1,2.4],[2.2,2.7],[2.3,2.2],[2.4,2.6],[2.5,2.0],[2.55,2.7],[2.6,3.2],[2.7,2.9],[2.75,2.3],[2.9,2.7],[2.95,3.3],[3.0,2.5],[3.1,3.0],[3.2,3.5],[3.25,2.8],[3.4,3.3],[3.45,2.4],[3.6,3.0],[3.7,3.7],[3.8,3.2],[3.9,3.5],[4.1,3.5],[4.2,3.0],[4.3,4.1],[4.4,3.6],[2.2,3.1],[1.9,2.8],[3.5,4.1],[3.0,3.9],[4.0,2.7],[1.3,1.5],[1.45,1.75],[1.55,2.1],[1.75,2.2],[1.85,1.8],[1.95,2.35],[2.1,2.7],[2.15,2.2],[2.3,2.5],[2.35,2.9],[2.45,2.2],[2.6,2.5],[2.65,2.9],[2.8,2.5],[2.85,3.0],[3.0,3.1],[3.05,2.6],[3.15,3.3],[3.3,2.9],[3.35,3.5],[3.5,3.2],[3.55,2.7],[3.65,3.6],[3.75,3.0],[3.95,3.2],[4.05,3.8],[4.15,3.3],[4.35,3.3],[4.5,3.6],[4.6,3.8]];
const lamZeroJapan = [[0.8,0.7],[1.0,1.5],[1.1,1.0],[1.2,1.9],[1.3,1.3],[1.4,2.2],[1.5,1.6],[1.6,2.0],[1.7,1.2],[1.8,2.5],[1.9,1.8],[2.0,2.2],[2.1,2.9],[2.2,1.9],[2.3,2.6],[2.4,3.2],[2.5,2.3],[2.6,2.9],[2.7,3.6],[2.8,2.6],[2.9,3.1],[3.0,3.8],[3.2,2.9],[3.4,3.3],[3.6,3.5],[4.1,4.6],[5.2,5.1],[1.45,1.0],[2.0,1.4],[1.1,1.75],[1.2,1.5],[1.5,1.9],[1.7,1.6],[1.9,2.2],[2.1,2.0],[2.3,2.3],[2.5,2.7],[2.7,2.2],[2.9,2.8],[1.3,1.1]];
const lamZeroUSA = [[7.05,12.91],[6.31,9.39],[7.36,8.9],[3.74,8.4],[4.95,7.67],[5.44,7.98],[5.82,7.62],[6.47,7.98],[6.70,7.62],[6.53,7.25],[7.05,7.07],[7.68,6.92],[7.89,6.58],[8.2,6.43],[9.74,6.48],[10.31,6.21],[6.9,4.69],[7.77,4.97],[7.44,5.15],[7.14,5.24],[6.84,5.52],[6.02,5.15],[5.83,4.24],[5.11,1.28],[4.70,2.50],[1.48,0.22],[2.47,0.53],[2.67,0.53],[1.63,4.79],[2.17,5.1],[3.23,5.88],[3.54,6.01],[3.66,7.25],[4.05,7.25],[4.37,6.89],[4.70,6.98],[5.06,7.07],[5.24,6.98],[4.27,6.34],[4.58,5.79],[4.95,5.61],[5.33,5.97],[5.63,6.43],[6.26,6.16],[6.02,6.61],[4.12,5.61],[3.82,5.24],[3.5,4.88],[2.98,4.6],[2.67,4.15],[2.29,3.78],[1.85,3.42],[1.39,2.96],[0.95,2.68],[0.8,2.32],[1.1,1.95],[4.56,3.05],[4.87,3.78],[6.09,4.69],[1.6,3.5],[2.0,4.2],[2.4,4.5],[2.8,5.0],[3.1,5.3],[3.3,4.3],[3.7,5.6],[4.0,6.0],[4.3,5.0],[4.7,5.3],[5.1,5.8],[5.5,5.5],[5.8,6.0],[2.0,2.8],[2.5,3.4],[3.0,3.9],[3.5,4.1],[4.0,4.4],[4.4,4.2],[5.0,4.5],[5.5,4.9],[1.3,2.4],[1.8,2.6],[2.6,3.0],[3.2,3.6],[3.9,3.7],[4.2,4.0],[3.6,3.2],[5.3,3.8],[5.9,5.0],[6.5,5.7],[6.8,6.2],[1.2,3.3],[2.2,4.9],[1.4,3.2],[1.7,2.9],[1.9,3.8],[2.1,3.3],[2.3,4.1],[2.5,3.8],[2.7,4.5],[2.9,4.2],[3.1,4.7],[3.3,5.5],[3.4,4.6],[3.6,5.0],[3.8,5.9],[3.9,4.9],[4.1,5.4],[4.3,5.9],[4.4,5.3],[4.6,6.2],[4.8,5.0],[5.0,6.5],[5.2,5.3],[5.4,6.2],[5.6,5.7],[5.7,6.8],[6.0,5.6],[6.2,6.5],[6.4,6.9],[4.5,4.6],[3.0,3.4],[2.3,3.0],[5.2,4.8],[6.6,5.3],[1.5,2.7],[1.8,3.1],[2.0,3.6],[2.2,3.5],[2.4,4.0],[2.6,4.2],[2.8,3.7],[3.0,4.4],[3.2,4.0],[3.4,5.0],[3.5,5.8],[3.7,4.5],[3.9,5.3],[4.0,4.8],[4.2,5.6],[4.4,4.9],[4.6,5.6],[4.8,5.5],[5.0,5.1],[5.3,6.4],[5.6,6.1],[5.9,6.3],[6.1,5.8]];

// (f) a, b = 0
const aZeroGermany = [[0.082,0.121],[0.138,0.107],[0.12,0.094],[0.112,0.075],[0.108,0.061],[0.058,0.097],[0.06,0.073],[0.077,0.074],[0.075,0.085],[0.08,0.095],[0.085,0.08],[0.088,0.1],[0.09,0.09],[0.095,0.085],[0.1,0.105],[0.102,0.095],[0.105,0.1],[0.11,0.11],[0.114,0.09],[0.118,0.098],[0.092,0.11],[0.07,0.09],[0.083,0.072],[0.097,0.078],[0.067,0.082],[0.108,0.085],[0.115,0.112]];
const aZeroUK = [[0.137,0.146],[0.134,0.135],[0.12,0.13],[0.122,0.085],[0.115,0.099],[0.097,0.126],[0.071,0.11],[0.045,0.05],[0.05,0.04],[0.052,0.065],[0.055,0.055],[0.058,0.075],[0.06,0.045],[0.062,0.065],[0.065,0.085],[0.068,0.055],[0.07,0.075],[0.072,0.095],[0.074,0.06],[0.076,0.08],[0.078,0.1],[0.08,0.07],[0.082,0.09],[0.084,0.11],[0.086,0.075],[0.088,0.095],[0.09,0.065],[0.092,0.085],[0.094,0.105],[0.096,0.075],[0.098,0.095],[0.1,0.115],[0.102,0.08],[0.104,0.1],[0.106,0.09],[0.108,0.12],[0.11,0.1],[0.113,0.085],[0.116,0.105],[0.12,0.11],[0.124,0.1],[0.126,0.095],[0.065,0.07],[0.075,0.07],[0.085,0.085],[0.095,0.09],[0.105,0.07],[0.07,0.06],[0.08,0.1],[0.09,0.1],[0.1,0.09],[0.06,0.055],[0.055,0.06],[0.06,0.08],[0.065,0.06],[0.068,0.09],[0.072,0.07],[0.075,0.09],[0.078,0.065],[0.08,0.085],[0.083,0.075],[0.086,0.1],[0.088,0.07],[0.09,0.09],[0.093,0.08],[0.096,0.1],[0.098,0.085],[0.1,0.1],[0.103,0.09],[0.106,0.105],[0.108,0.095],[0.11,0.085],[0.112,0.11],[0.115,0.095],[0.118,0.1],[0.07,0.05],[0.08,0.06],[0.09,0.075],[0.1,0.08],[0.085,0.065],[0.095,0.07],[0.105,0.08],[0.05,0.05],[0.058,0.065],[0.063,0.075],[0.067,0.065],[0.073,0.085],[0.077,0.075],[0.082,0.08],[0.087,0.09],[0.091,0.095],[0.097,0.09],[0.102,0.105],[0.107,0.1],[0.111,0.095],[0.117,0.115],[0.122,0.105]];
const aZeroJapan = [[-0.054,0.045],[-0.044,-0.019],[-0.034,-0.013],[-0.029,-0.019],[-0.009,-0.027],[0.048,0.095],[0.045,0.089],[0.013,0.056],[0.084,0.037],[0.0,0.005],[0.005,0.015],[0.01,0.02],[0.015,0.03],[0.02,0.025],[0.022,0.04],[0.025,0.045],[0.028,0.055],[0.03,0.035],[0.032,0.06],[0.035,0.05],[0.038,0.065],[0.04,0.045],[0.042,0.07],[0.045,0.055],[0.048,0.075],[0.05,0.06],[0.052,0.08],[0.055,0.065],[0.058,0.085],[0.06,0.07],[0.062,0.055],[0.065,0.08],[0.068,0.06],[0.07,0.075],[0.072,0.05],[0.075,0.065],[0.078,0.045],[0.035,0.075],[0.045,0.04],[0.055,0.05],[0.04,0.08],[0.05,0.09],[0.03,0.07],[-0.005,-0.01],[0.015,0.045],[0.065,0.04],[0.03,0.04],[0.035,0.055],[0.04,0.06],[0.045,0.065],[0.05,0.07],[0.055,0.075],[0.06,0.06],[0.065,0.07],[0.025,0.03],[0.02,0.03]];
const aZeroUSA = [[0.053,0.124],[0.018,0.086],[0.034,0.075],[-0.062,-0.016],[-0.053,-0.056],[-0.026,-0.049],[-0.004,-0.051],[0.014,-0.03],[0.007,-0.018],[0.0015,-0.028],[-0.016,0.022],[-0.018,0.005],[-0.024,-0.002],[-0.035,-0.017],[0.081,0.046],[0.075,0.052],[0.062,0.025],[0.056,0.022],[-0.02,-0.01],[-0.015,-0.005],[-0.012,-0.018],[-0.01,0.0],[-0.008,-0.012],[-0.005,0.008],[-0.002,-0.005],[0.0,0.005],[0.003,-0.012],[0.005,0.012],[0.008,0.0],[0.01,0.015],[0.012,0.005],[0.015,0.02],[0.018,0.01],[0.02,0.028],[0.022,0.015],[0.025,0.03],[0.028,0.02],[0.03,0.035],[0.032,0.022],[0.035,0.04],[0.038,0.028],[0.04,0.045],[0.042,0.03],[0.045,0.035],[0.048,0.025],[0.05,0.04],[0.052,0.03],[0.055,0.045],[0.06,0.038],[0.065,0.05],[0.07,0.042],[-0.025,-0.018],[-0.01,-0.025],[0.025,0.012],[0.035,0.018],[0.045,0.05],[0.03,0.045],[0.015,0.03],[0.02,0.0],[0.04,0.02],[-0.003,0.02],[0.058,0.055],[-0.015,-0.015],[-0.008,-0.005],[-0.004,0.0],[0.0,-0.008],[0.004,0.006],[0.008,0.01],[0.012,0.018],[0.016,0.012],[0.02,0.02],[0.024,0.025],[0.028,0.03],[0.032,0.028],[0.036,0.032],[0.04,0.035],[0.044,0.04],[0.048,0.035],[0.052,0.04],[0.027,0.016],[0.033,0.038],[0.046,0.03],[0.0,0.01],[0.006,-0.004],[0.01,0.008],[0.014,0.014],[0.018,0.022],[0.022,0.01],[0.026,0.024],[0.03,0.02],[0.034,0.03],[0.038,0.04],[0.043,0.028],[0.047,0.042],[0.053,0.035],[0.057,0.04],[0.063,0.045]];

// (g) kappa0, b = 0
const kapZeroGermany = [[0.7,0.75],[0.72,0.9],[0.75,0.7],[0.78,0.85],[0.8,1.0],[0.82,0.78],[0.85,0.92],[0.88,0.7],[0.9,1.05],[0.92,0.82],[0.95,0.95],[0.97,0.72],[1.0,0.88],[1.02,1.02],[1.05,0.78],[1.08,0.93],[1.1,0.7],[1.12,0.85],[1.15,1.0],[1.18,0.75],[1.2,0.9],[0.88,0.85],[0.95,0.78],[1.0,1.1],[1.05,0.65],[0.8,0.68],[1.25,0.8],[0.98,1.18],[1.22,1.1],[0.75,0.95],[1.1,1.2],[0.75,0.8],[0.85,0.75],[0.9,0.9],[1.0,0.8],[1.05,0.95],[1.12,0.78],[0.82,0.9],[0.93,0.7],[1.15,0.88],[0.78,0.72]];
const kapZeroUK = [[1.31,1.46],[1.64,1.27],[1.48,1.08],[1.42,1.01],[1.25,1.18],[0.75,0.8],[0.8,0.95],[0.85,1.1],[0.88,0.75],[0.9,1.2],[0.95,0.85],[1.0,1.0],[1.05,1.15],[1.08,0.8],[1.1,1.3],[1.15,0.9],[1.18,1.05],[1.2,1.2],[1.22,0.85],[1.25,1.0],[1.28,1.15],[1.3,1.3],[1.33,0.95],[1.35,1.1],[1.38,1.25],[1.4,1.05],[1.45,1.15],[1.5,1.1],[1.55,1.0],[0.7,0.75],[0.98,1.28],[1.12,1.4],[1.28,0.9],[1.02,0.75],[0.92,0.95],[0.95,1.05],[1.05,0.9],[1.15,1.1],[1.25,1.25],[1.3,1.1],[1.35,1.2],[1.2,1.0],[1.4,1.15],[1.0,1.2],[0.85,1.0]];
const kapZeroJapan = [[0.59,0.76],[0.63,1.07],[0.97,1.43],[1.50,1.42],[0.88,0.67],[0.8,1.1],[0.85,1.25],[0.9,0.95],[0.95,1.15],[1.0,1.3],[1.05,1.0],[1.1,1.15],[1.12,1.35],[1.15,0.95],[1.18,1.1],[1.2,1.25],[1.22,0.98],[1.25,1.15],[1.28,1.3],[1.3,1.05],[1.32,1.2],[1.35,0.92],[1.38,1.1],[1.0,1.4],[0.9,1.3],[1.15,1.4],[0.7,0.85],[0.75,1.2],[1.05,0.85],[1.4,1.25],[0.92,1.05],[1.1,1.05],[1.25,1.4],[1.0,1.1],[1.05,1.2],[1.1,1.25],[1.15,1.05],[1.2,1.15],[1.25,1.05],[0.95,1.25],[1.3,1.15]];
const kapZeroUSA = [[2.55,3.03],[2.34,2.90],[2.39,2.88],[2.43,2.78],[2.46,2.44],[2.23,2.62],[2.15,2.57],[1.48,2.42],[1.24,2.41],[1.11,2.24],[0.73,2.0],[1.72,2.37],[1.86,2.36],[1.75,2.26],[1.98,2.11],[2.02,2.01],[2.14,1.93],[2.14,1.86],[2.08,1.65],[1.94,1.71],[2.41,1.53],[2.38,1.47],[1.86,1.52],[1.80,1.25],[1.88,1.25],[1.77,1.36],[1.67,1.11],[1.63,0.98],[1.66,0.74],[1.41,0.76],[1.38,0.71],[0.86,1.67],[0.95,1.75],[1.05,1.52],[1.24,1.67],[1.34,1.77],[1.42,1.92],[1.57,2.06],[1.65,1.97],[1.55,1.77],[1.46,1.62],[1.30,1.52],[1.17,1.87],[0.51,1.06],[0.68,0.99],[0.80,0.69],[1.05,0.69],[1.21,0.99],[1.64,1.03],[1.0,1.45],[1.1,1.6],[1.15,1.35],[1.2,1.8],[1.25,1.5],[1.3,1.95],[1.35,1.4],[1.4,1.6],[1.45,2.1],[1.5,1.55],[1.55,1.3],[1.6,1.85],[1.65,1.6],[1.7,2.1],[1.75,1.5],[1.2,2.05],[0.9,1.4],[1.35,2.2],[1.5,1.85],[1.6,2.3],[1.45,1.35],[0.95,1.55],[1.05,1.7],[1.1,1.3],[1.2,1.55],[1.3,1.35],[1.35,1.6],[1.4,1.45],[1.55,1.45],[1.6,1.7],[1.7,1.7],[0.85,1.3],[0.9,1.15]];

// ---- drawing ----
const colors = { Germany: "#bfbf00", UK: "#bf00bf", Japan: "#0000ff", USA: "#008000" };
const drawOrder = ["USA", "UK", "Japan", "Germany"];
const FS = 20;

const lamLabel = w => [{ t: "λ", it: true }, { t: "0", sub: true }, { t: " " + w + " period [mm h" }, { t: "−1", sup: true }, { t: "]" }];
const aLabel = w => [{ t: "a", it: true }, { t: " " + w + " period [°C" }, { t: "−1", sup: true }, { t: "]" }];
const kapLabel = w => [{ t: "κ", it: true }, { t: "0", sub: true }, { t: "  " + w + " period [-]" }];
const bLabel = w => [{ t: "b", it: true }, { t: " " + w + " period [°C" }, { t: "−1", sup: true }, { t: "]" }];

const cols = [97, 549];
const rows = [65, 419, 772, 1124];
const W = 283, H = 237;

const panels = [
  { col: 0, row: 0, dom: [0, 13], ticks: lamTicks, fmt: d3.format("d"), lab: lamLabel, yOff: 44, idX: 5,
    head: [[{ t: "b", it: true }, { t: " = free" }], [{ t: "ρ = " }]],
    sets: { Germany: lamFreeGermany, UK: lamFreeUK, Japan: lamFreeJapan, USA: lamFreeUSA } },
  { col: 0, row: 1, dom: [-0.1, 0.15], ticks: aTicks, fmt: d3.format(".2f"), lab: aLabel, yOff: 77, idX: 5,
    head: [[{ t: "ρ", it: true }, { t: " = " }]],
    sets: { Germany: aFreeGermany, UK: aFreeUK, Japan: aFreeJapan, USA: aFreeUSA } },
  { col: 0, row: 2, dom: [0.5, 4], ticks: kapTicks, fmt: d3.format("d"), lab: kapLabel, yOff: 30, idX: 7,
    head: [[{ t: "ρ", it: true }, { t: " = " }]],
    sets: { Germany: kapFreeGermany, UK: kapFreeUK, Japan: kapFreeJapan, USA: kapFreeUSA } },
  { col: 0, row: 3, dom: [-0.2, 0.1], ticks: bTicks, fmt: d3.format(".1f"), lab: bLabel, yOff: 68, idX: 5,
    head: [[{ t: "ρ", it: true }, { t: " = " }]],
    sets: { Germany: bFreeGermany, UK: bFreeUK, Japan: bFreeJapan, USA: bFreeUSA } },
  { col: 1, row: 0, dom: [0, 13], ticks: lamTicks, fmt: d3.format("d"), lab: lamLabel, yOff: 46, idX: 5,
    head: [[{ t: "b", it: true }, { t: " = 0" }], [{ t: "ρ = " }]],
    sets: { Germany: lamZeroGermany, UK: lamZeroUK, Japan: lamZeroJapan, USA: lamZeroUSA } },
  { col: 1, row: 1, dom: [-0.1, 0.15], ticks: aTicks, fmt: d3.format(".2f"), lab: aLabel, yOff: 77, idX: 11,
    head: [[{ t: "ρ", it: true }, { t: " = " }]],
    sets: { Germany: aZeroGermany, UK: aZeroUK, Japan: aZeroJapan, USA: aZeroUSA } },
  { col: 1, row: 2, dom: [0.5, 4], ticks: kapTicks, fmt: d3.format("d"), lab: kapLabel, yOff: 31, idX: 4,
    head: [[{ t: "ρ", it: true }, { t: " = " }]],
    sets: { Germany: kapZeroGermany, UK: kapZeroUK, Japan: kapZeroJapan, USA: kapZeroUSA } }
];

const svg = d3.select("#fig");

// appends tspans, handling italic, sub- and superscripts
function rich(sel, segs, fs) {
  let shift = 0;
  segs.forEach(s => {
    const target = s.sub ? 0.22 * fs : s.sup ? -0.36 * fs : 0;
    const ts = sel.append("tspan").text(s.t).attr("dy", target - shift);
    shift = target;
    if (s.sub || s.sup) ts.attr("font-size", 0.7 * fs);
    if (s.it) ts.attr("font-style", "italic");
  });
}

const tri = d3.symbol().type(d3.symbolTriangle);
const dot = d3.symbol().type(d3.symbolCircle);
function marker(sel, country, big) {
  const c = colors[country];
  if (country === "Germany") {
    sel.append("path").attr("d", tri.size(big ? 75 : 24)()).attr("fill", c);
  } else if (country === "USA") {
    sel.append("path").attr("d", tri.size(big ? 75 : 24)()).attr("fill", c).attr("transform", "rotate(180)");
  } else if (country === "Japan") {
    sel.append("path").attr("d", dot.size(big ? 28 : 13)()).attr("fill", c);
  } else {
    const r = big ? 5.5 : 2.6;
    sel.append("path").attr("d", `M${-r},${-r}L${r},${r}M${-r},${r}L${r},${-r}`)
      .attr("stroke", c).attr("stroke-width", big ? 1 : 1.7).attr("fill", "none");
  }
}

panels.forEach((p, i) => {
  const left = cols[p.col], top = rows[p.row];
  const x = d3.scaleLinear().domain(p.dom).range([left, left + W]);
  const y = d3.scaleLinear().domain(p.dom).range([top + H, top]);
  const g = svg.append("g");

  g.append("clipPath").attr("id", "clip" + i)
    .append("rect").attr("x", left).attr("y", top).attr("width", W).attr("height", H);
  const plot = g.append("g").attr("clip-path", `url(#clip${i})`);

  drawOrder.forEach(country => {
    plot.selectAll(null).data(p.sets[country]).enter().append("g")
      .attr("transform", d => `translate(${x(d[0])},${y(d[1])})`)
      .each(function () { marker(d3.select(this), country, false); });
  });

  // 1:1 line
  plot.append("line")
    .attr("x1", x(p.dom[0])).attr("y1", y(p.dom[0]))
    .attr("x2", x(p.dom[1])).attr("y2", y(p.dom[1]))
    .attr("stroke", "#1f77b4").attr("stroke-width", 1.4).attr("stroke-dasharray", "4.5,2");

  g.append("rect").attr("x", left).attr("y", top).attr("width", W).attr("height", H)
    .attr("fill", "none").attr("stroke", "#000").attr("stroke-width", 1);

  const xAxis = g.append("g").attr("transform", `translate(0,${top + H})`)
    .call(d3.axisBottom(x).tickValues(p.ticks).tickFormat(p.fmt).tickSize(3.5).tickPadding(4));
  const yAxis = g.append("g").attr("transform", `translate(${left},0)`)
    .call(d3.axisLeft(y).tickValues(p.ticks).tickFormat(p.fmt).tickSize(3.5).tickPadding(4));
  [xAxis, yAxis].forEach(a => {
    a.select(".domain").remove();
    a.attr("font-size", FS).attr("font-family", null);
    a.selectAll("text").attr("fill", "#000");
    a.selectAll("line").attr("stroke", "#000").attr("stroke-width", 0.8);
  });

  // heading lines above the axes; mathtext rho lines sit a bit higher
  const lines = p.head.map(l => l.slice());
  lines[lines.length - 1] = lines[lines.length - 1].concat([{ t: rhoValues[i] }]);
  lines.push([{ t: "RMSD = " + rmsdValues[i] }]);
  const gap = lines.length === 3 ? 21.5 : 26;
  lines.forEach((segs, k) => {
    const t = g.append("text").attr("x", left + W / 2)
      .attr("y", top - 6 - gap * (lines.length - 1 - k))
      .attr("text-anchor", "middle").attr("font-size", FS);
    rich(t, segs, FS);
  });
  g.append("text").attr("x", left + p.idX).attr("y", top - 6).attr("font-size", FS)
    .text(`(${panelIds[i]})`);

  const xl = g.append("text").attr("x", left + W / 2).attr("y", top + H + 48)
    .attr("text-anchor", "middle").attr("font-size", FS);
  rich(xl, p.lab("first"), FS);
  const yl = g.append("text")
    .attr("transform", `translate(${left - p.yOff},${top + H / 2}) rotate(-90)`)
    .attr("text-anchor", "middle").attr("font-size", FS);
  rich(yl, p.lab("second"), FS);
});

// legend
const leg = svg.append("g").attr("transform", "translate(560,1135)");
leg.append("rect").attr("width", 163).attr("height", 121).attr("rx", 4)
  .attr("fill", "#fff").attr("stroke", "#d6d6d6").attr("stroke-width", 1);
countries.forEach((c, k) => {
  const row = leg.append("g").attr("transform", `translate(0,${17 + 28.3 * k})`);
  marker(row.append("g").attr("transform", "translate(28,0)"), c, true);
  row.append("text").attr("x", 63).attr("y", 6.5).attr("font-size", FS).text(c);
});
</script>
</body>
</html>
